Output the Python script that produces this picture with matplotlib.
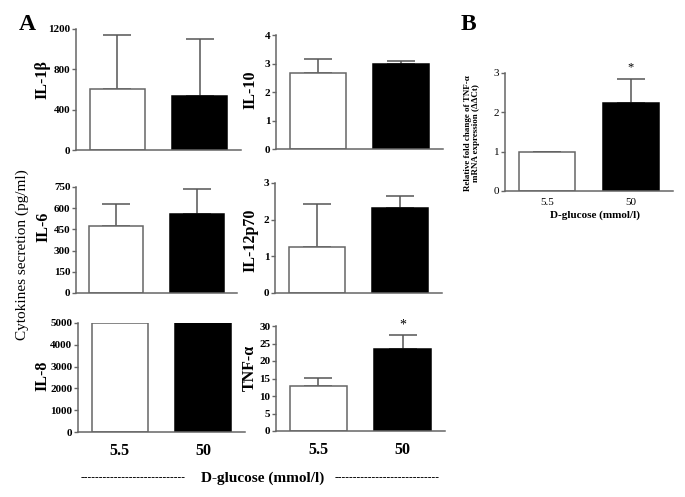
import numpy as np
import matplotlib
matplotlib.use('Agg')
import matplotlib.pyplot as plt

plt.rcParams['font.family'] = ['Liberation Serif', 'DejaVu Serif']

# panel A data (pg/ml)
cytokines = ['IL-1β', 'IL-10', 'IL-6', 'IL-12p70', 'IL-8', 'TNF-α']
low_mean = [605, 2.67, 475, 1.25, 5000, 12.9]
low_err = [538, 0.50, 158, 1.19, 0, 2.15]
high_mean = [536, 2.97, 557, 2.33, 5000, 23.3]
high_err = [562, 0.11, 178, 0.31, 0, 4.0]
ymax = [1200, 4, 750, 3, 5000, 30]
ystep = [400, 1, 150, 1, 1000, 5]
signif = [False, False, False, False, False, True]

glucose = ['5.5', '50']

# panel B data
fold_mean = [1.0, 2.25]
fold_err = [0.0, 0.60]

W, H = 685, 497
fig = plt.figure(figsize=(W / 100, H / 100), dpi=100)


def px_axes(l, t, r, b):
    return fig.add_axes([l / W, 1 - b / H, (r - l) / W, (b - t) / H])


def style(ax, bold=True, size=8):
    for s in ['top', 'right']:
        ax.spines[s].set_visible(False)
    for s in ['left', 'bottom']:
        ax.spines[s].set_color('#666666')
        ax.spines[s].set_linewidth(1.1)
    ax.tick_params(axis='y', length=3, width=1, color='#666666', pad=1,
                   labelsize=size)
    for lab in ax.get_yticklabels():
        lab.set_fontweight('bold' if bold else 'normal')


def bars(ax, means, errs):
    x = np.arange(2)
    ax.bar(x, means, width=0.67, color=['white', 'black'],
           edgecolor=['#666666', 'black'], linewidth=1.1, zorder=2)
    ax.errorbar(x, means, yerr=[np.zeros(2), errs], fmt='none',
                ecolor='#555555', elinewidth=1.1, capsize=10, capthick=1.1,
                zorder=1)
    ax.set_xlim(-0.5, 1.5)


# pixel boxes of panel A axes (left, top, right, bottom)
boxes = [(76, 29, 241, 150), (276, 35, 443, 149),
         (76, 187, 237, 293), (275, 183, 442, 293),
         (78, 323, 245, 432), (276, 326, 445, 431)]
label_pos = [(42, 80), (250, 90), (43, 227), (250, 240), (42, 376), (250, 368)]

for i in range(6):
    ax = px_axes(*boxes[i])
    bars(ax, [low_mean[i], high_mean[i]], [low_err[i], high_err[i]])
    ax.set_ylim(0, ymax[i])
    ax.set_yticks(np.arange(0, ymax[i] + ystep[i] / 2, ystep[i]))
    ax.spines['left'].set_bounds(0, ymax[i])
    if i >= 4:
        ax.set_xticks([0, 1])
        ax.set_xticklabels(glucose, fontsize=11.5, fontweight='bold')
        ax.tick_params(axis='x', length=0, pad=8)
    else:
        ax.set_xticks([])
    style(ax)
    if signif[i]:
        ax.annotate('*', (1, high_mean[i] + high_err[i]), xytext=(0, 3),
                    textcoords='offset points', ha='center', va='bottom',
                    fontsize=10)
    fig.text(label_pos[i][0] / W, 1 - label_pos[i][1] / H, cytokines[i],
             rotation=90, ha='center', va='center', fontsize=11.5,
             fontweight='bold')

# panel B
axb = px_axes(505, 73, 673, 191)
bars(axb, fold_mean, fold_err)
axb.set_ylim(0, 3)
axb.set_yticks([0, 1, 2, 3])
axb.set_xticks([0, 1])
axb.set_xticklabels(glucose, fontsize=8)
axb.tick_params(axis='x', length=0, pad=5)
style(axb, bold=False, size=8)
axb.annotate('*', (1, fold_mean[1] + fold_err[1]), xytext=(0, 4),
             textcoords='offset points', ha='center', va='bottom', fontsize=9)
fig.text(472 / W, 1 - 133 / H,
         'Relative fold change of TNF-α\nmRNA expression (ΔΔCt)',
         rotation=90, ha='center', va='center', fontsize=6.5,
         fontweight='bold', linespacing=1.1)
fig.text(595 / W, 1 - 215 / H, 'D-glucose (mmol/l)', ha='center',
         va='center', fontsize=8, fontweight='bold')

# figure-level text
fig.text(27 / W, 1 - 25 / H, 'A', ha='center', va='center', fontsize=17,
         fontweight='bold')
fig.text(468 / W, 1 - 25 / H, 'B', ha='center', va='center', fontsize=17,
         fontweight='bold')
fig.text(22 / W, 1 - 255 / H, 'Cytokines secretion (pg/ml)', rotation=90,
         ha='center', va='center', fontsize=11)
fig.text(263 / W, 1 - 478 / H, 'D-glucose (mmol/l)', ha='center',
         va='center', fontsize=11, fontweight='bold')
fig.text(133 / W, 1 - 478 / H, '-' * 28, ha='center', va='center',
         fontsize=8, fontweight='bold')
fig.text(387 / W, 1 - 478 / H, '-' * 28, ha='center', va='center',
         fontsize=8, fontweight='bold')

fig.savefig('out.png', dpi=100)
